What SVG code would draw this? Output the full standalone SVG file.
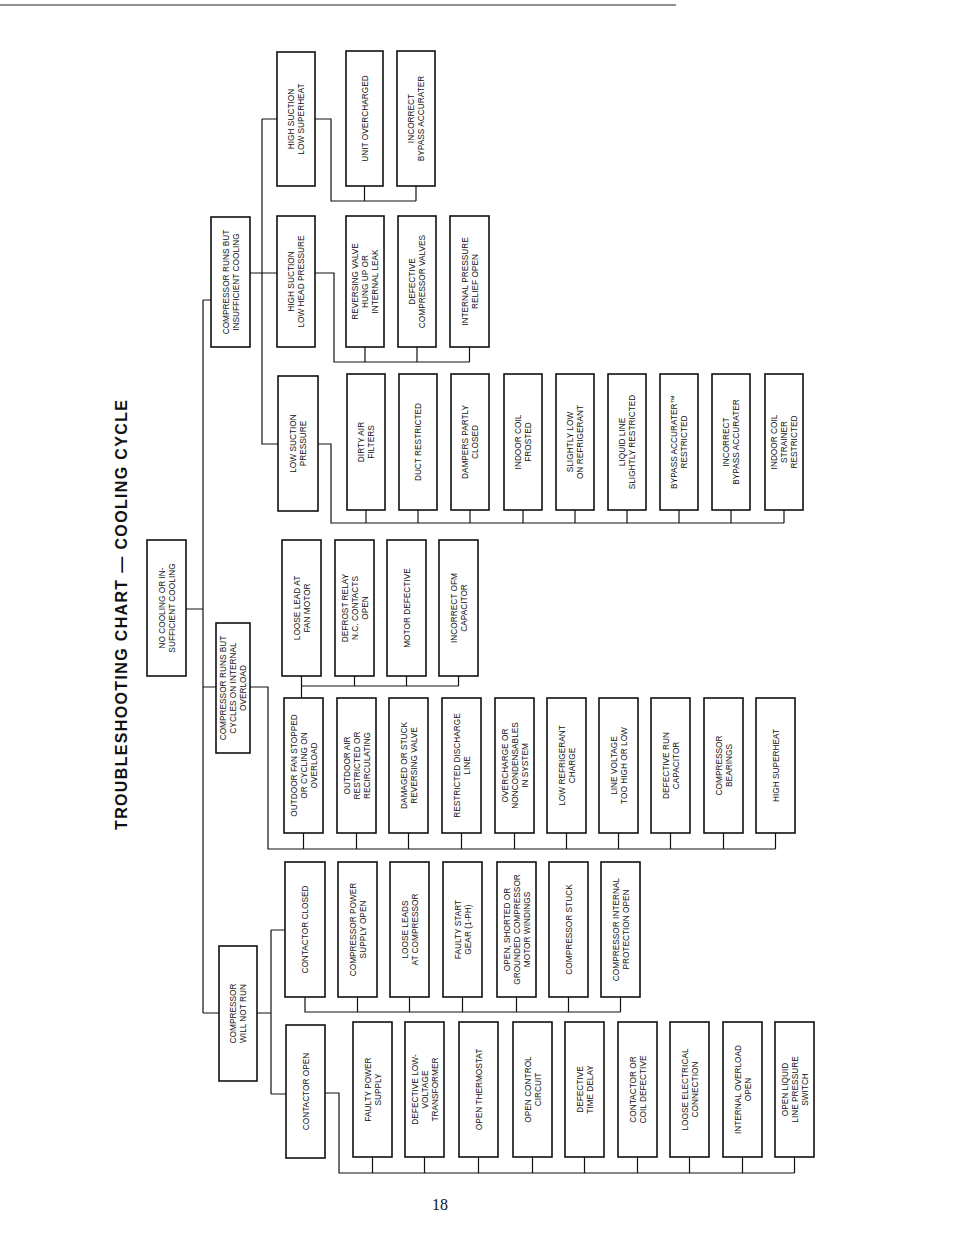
<svg xmlns="http://www.w3.org/2000/svg" width="954" height="1235" viewBox="0 0 954 1235">
<style>
.b{fill:#fff;stroke:#111;stroke-width:1.6}
.t{font-family:"Liberation Sans",Arial,sans-serif;font-size:8.3px;fill:#111;text-anchor:middle}
.c{fill:none;stroke:#111;stroke-width:1.2}
</style>
<rect width="954" height="1235" fill="#fff"/>
<line x1="0" y1="5" x2="676" y2="5" stroke="#222" stroke-width="1"/>
<text transform="translate(127 615) rotate(-90)" font-family="'Liberation Sans',Arial,sans-serif" font-weight="bold" font-size="16" text-anchor="middle" textLength="430" fill="#111">TROUBLESHOOTING CHART — COOLING CYCLE</text>
<text x="440" y="1210" font-family="'Liberation Serif','Times New Roman',serif" font-size="16" text-anchor="middle" fill="#111">18</text>
<g id="connectors" class="c">
<path d="M203 300V1013M186 609H203M203 300H211M203 687H216M203 1013H219"/>
<path d="M250 273H277M262 119V444H278M262 119H277"/>
<path d="M315 119H331V201H416M364.5 186V201M416 186V201"/>
<path d="M315 273H334V362H469.5M365 347V362M417 347V362M469.5 347V362"/>
<path d="M318 444H331V523H784M366 510V523M418 510V523M470 510V523M523 510V523M575 510V523M627 510V523M679 510V523M731 510V523M784 510V523"/>
<path d="M250 687H268V849H775.5M303.5 833V849M356.5 833V849M408.5 833V849M461.5 833V849M514.5 833V849M566.5 833V849M618.5 833V849M670.5 833V849M723.5 833V849M775.5 833V849"/>
<path d="M301.5 676V698M301.5 686H458.5M354.5 676V686M406.5 676V686M458.5 676V686"/>
<path d="M257 1013H271M271 930V1094M271 930H285M271 1094H286"/>
<path d="M305 997V1012H620.5M357.5 997V1012M409.5 997V1012M462.5 997V1012M516.5 997V1012M568.5 997V1012M620.5 997V1012"/>
<path d="M325 1093H339V1173H794.5M372.5 1157V1173M424.5 1157V1173M478.5 1157V1173M532.5 1157V1173M584.5 1157V1173M637.5 1157V1173M689.5 1157V1173M742.5 1157V1173M794.5 1157V1173"/>
</g>
<g id="root"><rect class="b" x="147" y="540" width="39" height="136"/><text class="t" transform="translate(166.5 608) rotate(-90)"><tspan x="0" y="-2">NO COOLING OR IN-</tspan><tspan x="0" y="8">SUFFICIENT COOLING</tspan></text></g>
<g id="crbi"><rect class="b" x="211" y="217" width="39" height="130"/><text class="t" transform="translate(230.5 282) rotate(-90)"><tspan x="0" y="-2">COMPRESSOR RUNS BUT</tspan><tspan x="0" y="8">INSUFFICIENT COOLING</tspan></text></g>
<g id="crol"><rect class="b" x="216" y="623" width="34" height="130"/><text class="t" transform="translate(233 688) rotate(-90)"><tspan x="0" y="-7">COMPRESSOR RUNS BUT</tspan><tspan x="0" y="3">CYCLES ON INTERNAL</tspan><tspan x="0" y="13">OVERLOAD</tspan></text></g>
<g id="cwnr"><rect class="b" x="219" y="946" width="38" height="135"/><text class="t" transform="translate(238 1013.5) rotate(-90)"><tspan x="0" y="-2">COMPRESSOR</tspan><tspan x="0" y="8">WILL NOT RUN</tspan></text></g>
<g id="hsls"><rect class="b" x="277" y="52" width="38" height="134"/><text class="t" transform="translate(296 119) rotate(-90)"><tspan x="0" y="-2">HIGH SUCTION</tspan><tspan x="0" y="8">LOW SUPERHEAT</tspan></text></g>
<g id="uo"><rect class="b" x="346" y="51" width="37" height="135"/><text class="t" transform="translate(364.5 118.5) rotate(-90)"><tspan x="0" y="3">UNIT OVERCHARGED</tspan></text></g>
<g id="iba1"><rect class="b" x="397" y="51" width="38" height="135"/><text class="t" transform="translate(416 118.5) rotate(-90)"><tspan x="0" y="-2">INCORRECT</tspan><tspan x="0" y="8">BYPASS ACCURATER</tspan></text></g>
<g id="hslhp"><rect class="b" x="277" y="216" width="38" height="131"/><text class="t" transform="translate(296 281.5) rotate(-90)"><tspan x="0" y="-2">HIGH SUCTION</tspan><tspan x="0" y="8">LOW HEAD PRESSURE</tspan></text></g>
<g id="rv"><rect class="b" x="346" y="216" width="38" height="131"/><text class="t" transform="translate(365 281.5) rotate(-90)"><tspan x="0" y="-7">REVERSING VALVE</tspan><tspan x="0" y="3">HUNG UP OR</tspan><tspan x="0" y="13">INTERNAL LEAK</tspan></text></g>
<g id="dcv"><rect class="b" x="398" y="216" width="38" height="131"/><text class="t" transform="translate(417 281.5) rotate(-90)"><tspan x="0" y="-2">DEFECTIVE</tspan><tspan x="0" y="8">COMPRESSOR VALVES</tspan></text></g>
<g id="ipr"><rect class="b" x="450" y="216" width="39" height="131"/><text class="t" transform="translate(469.5 281.5) rotate(-90)"><tspan x="0" y="-2">INTERNAL PRESSURE</tspan><tspan x="0" y="8">RELIEF OPEN</tspan></text></g>
<g id="lsp"><rect class="b" x="278" y="376" width="40" height="135"/><text class="t" transform="translate(298 443.5) rotate(-90)"><tspan x="0" y="-2">LOW SUCTION</tspan><tspan x="0" y="8">PRESSURE</tspan></text></g>
<g id="ls1"><rect class="b" x="347" y="374" width="38" height="136"/><text class="t" transform="translate(366 442) rotate(-90)"><tspan x="0" y="-2">DIRTY AIR</tspan><tspan x="0" y="8">FILTERS</tspan></text></g>
<g id="ls2"><rect class="b" x="399" y="374" width="38" height="136"/><text class="t" transform="translate(418 442) rotate(-90)"><tspan x="0" y="3">DUCT RESTRICTED</tspan></text></g>
<g id="ls3"><rect class="b" x="451" y="374" width="38" height="136"/><text class="t" transform="translate(470 442) rotate(-90)"><tspan x="0" y="-2">DAMPERS PARTLY</tspan><tspan x="0" y="8">CLOSED</tspan></text></g>
<g id="ls4"><rect class="b" x="504" y="374" width="38" height="136"/><text class="t" transform="translate(523 442) rotate(-90)"><tspan x="0" y="-2">INDOOR COIL</tspan><tspan x="0" y="8">FROSTED</tspan></text></g>
<g id="ls5"><rect class="b" x="556" y="374" width="38" height="136"/><text class="t" transform="translate(575 442) rotate(-90)"><tspan x="0" y="-2">SLIGHTLY LOW</tspan><tspan x="0" y="8">ON REFRIGERANT</tspan></text></g>
<g id="ls6"><rect class="b" x="608" y="374" width="38" height="136"/><text class="t" transform="translate(627 442) rotate(-90)"><tspan x="0" y="-2">LIQUID LINE</tspan><tspan x="0" y="8">SLIGHTLY RESTRICTED</tspan></text></g>
<g id="ls7"><rect class="b" x="660" y="374" width="38" height="136"/><text class="t" transform="translate(679 442) rotate(-90)"><tspan x="0" y="-2">BYPASS ACCURATER™</tspan><tspan x="0" y="8">RESTRICTED</tspan></text></g>
<g id="ls8"><rect class="b" x="712" y="374" width="38" height="136"/><text class="t" transform="translate(731 442) rotate(-90)"><tspan x="0" y="-2">INCORRECT</tspan><tspan x="0" y="8">BYPASS ACCURATER</tspan></text></g>
<g id="ls9"><rect class="b" x="765" y="374" width="38" height="136"/><text class="t" transform="translate(784 442) rotate(-90)"><tspan x="0" y="-7">INDOOR COIL</tspan><tspan x="0" y="3">STRAINER</tspan><tspan x="0" y="13">RESTRICTED</tspan></text></g>
<g id="fm1"><rect class="b" x="282" y="540" width="39" height="136"/><text class="t" transform="translate(301.5 608) rotate(-90)"><tspan x="0" y="-2">LOOSE LEAD AT</tspan><tspan x="0" y="8">FAN MOTOR</tspan></text></g>
<g id="fm2"><rect class="b" x="335" y="540" width="39" height="136"/><text class="t" transform="translate(354.5 608) rotate(-90)"><tspan x="0" y="-7">DEFROST RELAY</tspan><tspan x="0" y="3">N.C. CONTACTS</tspan><tspan x="0" y="13">OPEN</tspan></text></g>
<g id="fm3"><rect class="b" x="387" y="540" width="39" height="136"/><text class="t" transform="translate(406.5 608) rotate(-90)"><tspan x="0" y="3">MOTOR DEFECTIVE</tspan></text></g>
<g id="fm4"><rect class="b" x="439" y="540" width="39" height="136"/><text class="t" transform="translate(458.5 608) rotate(-90)"><tspan x="0" y="-2">INCORRECT OFM</tspan><tspan x="0" y="8">CAPACITOR</tspan></text></g>
<g id="ol1"><rect class="b" x="284" y="698" width="39" height="135"/><text class="t" transform="translate(303.5 765.5) rotate(-90)"><tspan x="0" y="-7">OUTDOOR FAN STOPPED</tspan><tspan x="0" y="3">OR CYCLING ON</tspan><tspan x="0" y="13">OVERLOAD</tspan></text></g>
<g id="ol2"><rect class="b" x="337" y="698" width="39" height="135"/><text class="t" transform="translate(356.5 765.5) rotate(-90)"><tspan x="0" y="-7">OUTDOOR AIR</tspan><tspan x="0" y="3">RESTRICTED OR</tspan><tspan x="0" y="13">RECIRCULATING</tspan></text></g>
<g id="ol3"><rect class="b" x="389" y="698" width="39" height="135"/><text class="t" transform="translate(408.5 765.5) rotate(-90)"><tspan x="0" y="-2">DAMAGED OR STUCK</tspan><tspan x="0" y="8">REVERSING VALVE</tspan></text></g>
<g id="ol4"><rect class="b" x="442" y="698" width="39" height="135"/><text class="t" transform="translate(461.5 765.5) rotate(-90)"><tspan x="0" y="-2">RESTRICTED DISCHARGE</tspan><tspan x="0" y="8">LINE</tspan></text></g>
<g id="ol5"><rect class="b" x="495" y="698" width="39" height="135"/><text class="t" transform="translate(514.5 765.5) rotate(-90)"><tspan x="0" y="-7">OVERCHARGE OR</tspan><tspan x="0" y="3">NONCONDENSABLES</tspan><tspan x="0" y="13">IN SYSTEM</tspan></text></g>
<g id="ol6"><rect class="b" x="547" y="698" width="39" height="135"/><text class="t" transform="translate(566.5 765.5) rotate(-90)"><tspan x="0" y="-2">LOW REFRIGERANT</tspan><tspan x="0" y="8">CHARGE</tspan></text></g>
<g id="ol7"><rect class="b" x="599" y="698" width="39" height="135"/><text class="t" transform="translate(618.5 765.5) rotate(-90)"><tspan x="0" y="-2">LINE VOLTAGE</tspan><tspan x="0" y="8">TOO HIGH OR LOW</tspan></text></g>
<g id="ol8"><rect class="b" x="651" y="698" width="39" height="135"/><text class="t" transform="translate(670.5 765.5) rotate(-90)"><tspan x="0" y="-2">DEFECTIVE RUN</tspan><tspan x="0" y="8">CAPACITOR</tspan></text></g>
<g id="ol9"><rect class="b" x="704" y="698" width="39" height="135"/><text class="t" transform="translate(723.5 765.5) rotate(-90)"><tspan x="0" y="-2">COMPRESSOR</tspan><tspan x="0" y="8">BEARINGS</tspan></text></g>
<g id="ol10"><rect class="b" x="756" y="698" width="39" height="135"/><text class="t" transform="translate(775.5 765.5) rotate(-90)"><tspan x="0" y="3">HIGH SUPERHEAT</tspan></text></g>
<g id="cc"><rect class="b" x="285" y="862" width="40" height="135"/><text class="t" transform="translate(305 929.5) rotate(-90)"><tspan x="0" y="3">CONTACTOR CLOSED</tspan></text></g>
<g id="cc1"><rect class="b" x="338" y="862" width="39" height="135"/><text class="t" transform="translate(357.5 929.5) rotate(-90)"><tspan x="0" y="-2">COMPRESSOR POWER</tspan><tspan x="0" y="8">SUPPLY OPEN</tspan></text></g>
<g id="cc2"><rect class="b" x="390" y="862" width="39" height="135"/><text class="t" transform="translate(409.5 929.5) rotate(-90)"><tspan x="0" y="-2">LOOSE LEADS</tspan><tspan x="0" y="8">AT COMPRESSOR</tspan></text></g>
<g id="cc3"><rect class="b" x="443" y="862" width="39" height="135"/><text class="t" transform="translate(462.5 929.5) rotate(-90)"><tspan x="0" y="-2">FAULTY START</tspan><tspan x="0" y="8">GEAR (1-PH)</tspan></text></g>
<g id="cc4"><rect class="b" x="497" y="862" width="39" height="135"/><text class="t" transform="translate(516.5 929.5) rotate(-90)"><tspan x="0" y="-7">OPEN, SHORTED OR</tspan><tspan x="0" y="3">GROUNDED COMPRESSOR</tspan><tspan x="0" y="13">MOTOR WINDINGS</tspan></text></g>
<g id="cc5"><rect class="b" x="549" y="862" width="39" height="135"/><text class="t" transform="translate(568.5 929.5) rotate(-90)"><tspan x="0" y="3">COMPRESSOR STUCK</tspan></text></g>
<g id="cc6"><rect class="b" x="601" y="862" width="39" height="135"/><text class="t" transform="translate(620.5 929.5) rotate(-90)"><tspan x="0" y="-2">COMPRESSOR INTERNAL</tspan><tspan x="0" y="8">PROTECTION OPEN</tspan></text></g>
<g id="co"><rect class="b" x="286" y="1025" width="39" height="133"/><text class="t" transform="translate(305.5 1091.5) rotate(-90)"><tspan x="0" y="3">CONTACTOR OPEN</tspan></text></g>
<g id="co1"><rect class="b" x="353" y="1022" width="39" height="135"/><text class="t" transform="translate(372.5 1089.5) rotate(-90)"><tspan x="0" y="-2">FAULTY POWER</tspan><tspan x="0" y="8">SUPPLY</tspan></text></g>
<g id="co2"><rect class="b" x="405" y="1022" width="39" height="135"/><text class="t" transform="translate(424.5 1089.5) rotate(-90)"><tspan x="0" y="-7">DEFECTIVE LOW-</tspan><tspan x="0" y="3">VOLTAGE</tspan><tspan x="0" y="13">TRANSFORMER</tspan></text></g>
<g id="co3"><rect class="b" x="459" y="1022" width="39" height="135"/><text class="t" transform="translate(478.5 1089.5) rotate(-90)"><tspan x="0" y="3">OPEN THERMOSTAT</tspan></text></g>
<g id="co4"><rect class="b" x="513" y="1022" width="39" height="135"/><text class="t" transform="translate(532.5 1089.5) rotate(-90)"><tspan x="0" y="-2">OPEN CONTROL</tspan><tspan x="0" y="8">CIRCUIT</tspan></text></g>
<g id="co5"><rect class="b" x="565" y="1022" width="39" height="135"/><text class="t" transform="translate(584.5 1089.5) rotate(-90)"><tspan x="0" y="-2">DEFECTIVE</tspan><tspan x="0" y="8">TIME DELAY</tspan></text></g>
<g id="co6"><rect class="b" x="618" y="1022" width="39" height="135"/><text class="t" transform="translate(637.5 1089.5) rotate(-90)"><tspan x="0" y="-2">CONTACTOR OR</tspan><tspan x="0" y="8">COIL DEFECTIVE</tspan></text></g>
<g id="co7"><rect class="b" x="670" y="1022" width="39" height="135"/><text class="t" transform="translate(689.5 1089.5) rotate(-90)"><tspan x="0" y="-2">LOOSE ELECTRICAL</tspan><tspan x="0" y="8">CONNECTION</tspan></text></g>
<g id="co8"><rect class="b" x="723" y="1022" width="39" height="135"/><text class="t" transform="translate(742.5 1089.5) rotate(-90)"><tspan x="0" y="-2">INTERNAL OVERLOAD</tspan><tspan x="0" y="8">OPEN</tspan></text></g>
<g id="co9"><rect class="b" x="775" y="1022" width="39" height="135"/><text class="t" transform="translate(794.5 1089.5) rotate(-90)"><tspan x="0" y="-7">OPEN LIQUID</tspan><tspan x="0" y="3">LINE PRESSURE</tspan><tspan x="0" y="13">SWITCH</tspan></text></g>
</svg>
